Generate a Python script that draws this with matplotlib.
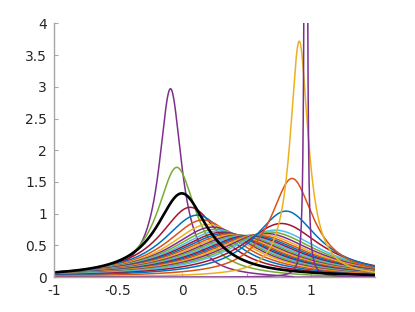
import numpy as np
import matplotlib
matplotlib.use('Agg')
import matplotlib.pyplot as plt

# peak positions and peak heights, one entry per curve
centers = [-0.093, -0.044, -0.005, 0.060, 0.114, 0.160, 0.200,
           0.233, 0.260, 0.288, 0.314, 0.340, 0.368, 0.397, 0.426,
           0.455, 0.485, 0.516, 0.546, 0.577, 0.611, 0.646, 0.684,
           0.720, 0.770, 0.806, 0.853, 0.909, 0.960]
heights = [2.97, 1.73, 1.32, 1.10, 0.976, 0.90, 0.83,
           0.788, 0.754, 0.728, 0.707, 0.690, 0.677, 0.667, 0.660,
           0.656, 0.654, 0.654, 0.657, 0.663, 0.674, 0.689, 0.710,
           0.74, 0.845, 1.04, 1.555, 3.72, 100.0]
# where the first curves run down onto the axis on their right side
right_edges = [0.87, 1.29]

# highlighted curve
black_center = -0.005
black_height = 1.32

x_ticks = [-1, -0.5, 0, 0.5, 1]
x_labels = ['-1', '-0.5', '0', '0.5', '1']
y_ticks = [0, 0.5, 1, 1.5, 2, 2.5, 3, 3.5, 4]
y_labels = ['0', '0.5', '1', '1.5', '2', '2.5', '3', '3.5', '4']

# matlab default colour order, first curve starts on the 4th colour
matlab_colors = ['#0072BD', '#D95319', '#EDB120', '#7E2F8E',
                 '#77AC30', '#4DBEEE', '#A2142F']


def lorentz(x, c, h):
    # normalised lorentzian with peak height h
    g = 1.0 / (np.pi * h)
    return (g / np.pi) / ((x - c) ** 2 + g ** 2)


x = np.linspace(-1, 1.5, 6001)

fig = plt.figure(figsize=(4.15, 3.12), dpi=100)
ax = fig.add_axes([0.130, 0.112, 0.774, 0.813])

for i, (c, h) in enumerate(zip(centers, heights)):
    y = lorentz(x, c, h)
    if i < len(right_edges):
        # squeeze the right flank to zero at the edge
        u = np.clip((x - c) / (right_edges[i] - c), 0, 1)
        y = y * np.sqrt(1 - u ** 2)
    ax.plot(x, y, color=matlab_colors[(i + 3) % 7], lw=1.1)

ax.plot(x, lorentz(x, black_center, black_height), color='black', lw=1.9)

ax.set_xlim(-1, 1.5)
ax.set_ylim(0, 4)
ax.set_xticks(x_ticks)
ax.set_xticklabels(x_labels)
ax.set_yticks(y_ticks)
ax.set_yticklabels(y_labels)

for side in ['top', 'right']:
    ax.spines[side].set_visible(False)
for side in ['left', 'bottom']:
    ax.spines[side].set_color('#a6a6a6')
    ax.spines[side].set_linewidth(1.0)

ax.tick_params(direction='in', length=3, width=0.8, color='#a6a6a6',
               labelsize=10, labelcolor='#262626')
ax.tick_params(axis='y', pad=5)
ax.tick_params(axis='x', pad=5)

plt.savefig('out.png', dpi=100)
plt.close()
